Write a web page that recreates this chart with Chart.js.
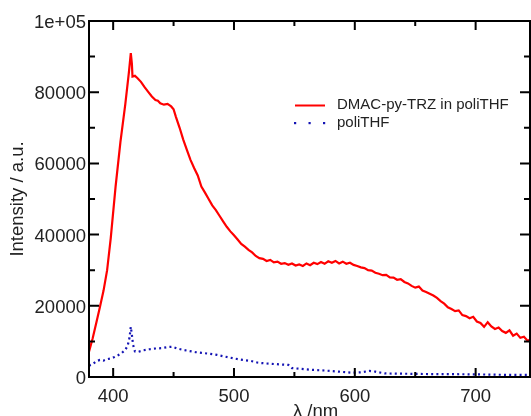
<!DOCTYPE html>
<html>
<head>
<meta charset="utf-8">
<script src="https://cdn.jsdelivr.net/npm/chart.js@4/dist/chart.umd.min.js"></script>
<style>
  html, body { margin: 0; padding: 0; background: #fff; }
  #wrap { width: 531px; height: 416px; }
</style>
</head>
<body>
<div id="wrap"><canvas id="c" width="531" height="416"></canvas></div>
<script>
// ---- data ----
const redLabel = "DMAC-py-TRZ in poliTHF";
const blueLabel = "poliTHF";

const redWavelength = [380,383,386,389,392,395,398,402,406,410,413,414.6,415.5,416,418,420,423,426,429,432,435,437,439,442,445,448,450,452,455,458,461,464,467,470,473,476,479,482,485,488,491,494,497,500,503,506,509,512,515,518,521,524,527,530,533,536,539,542,545,548,551,554,557,560,563,566,569,572,575,578,581,584,587,590,593,596,599,602,605,608,611,614,617,620,623,626,629,632,635,638,641,644,647,650,653,656,659,662,665,668,671,674,677,680,683,686,689,692,695,698,701,704,707,710,713,716,719,722,725,728,731,734,737,740,743,746];
const redIntensity = [7100,10800,15200,19600,24200,30000,39000,53500,66000,76500,85500,91000,88000,84400,84600,84000,82900,81400,80100,78800,77800,77600,76900,76500,76700,76000,75200,73000,70000,66700,63800,61000,58700,56600,53500,51800,50000,48200,46900,45300,43700,42200,40900,39800,38600,37400,36600,35700,35000,34000,33400,33200,32600,32900,32200,32400,31800,32000,31500,31900,31300,31600,31200,31900,31400,32100,31700,32300,31800,32500,32100,32600,31900,32400,31800,32100,31500,31200,30800,30600,30000,29900,29300,29000,28600,28700,28000,27900,27300,27500,26700,26300,25600,25100,25400,24300,23900,23400,22900,22200,21300,20600,19600,19100,18500,18700,17400,17100,16500,16900,15600,15200,14100,15400,14200,13500,13900,12900,12400,13100,11600,12200,11000,11300,10200,10600];

const blueWavelength = [380,383,386,389,392,395,398,401,404,407,410,412,413.5,414.6,415.5,416.5,418,420,425,430,435,440,445,449,453,458,463,468,473,480,486,493,500,507,514,520,527,535,545,548,555,565,576,587,598,605,612,617,625,635,645,658,670,685,700,715,730,746];
const blueIntensity = [3200,3600,4400,4800,4600,5000,5200,5600,6100,6700,7600,8800,11000,14100,11800,9000,7200,7000,7500,7800,8000,8100,8400,8500,8000,7600,7300,7000,6800,6500,6200,5700,5200,4800,4500,4000,3800,3600,3400,2500,2300,2000,1800,1500,1200,1300,1700,1500,1000,950,900,840,800,780,750,650,600,560];

const xTickValues = [400, 500, 600, 700];
const xMinorValues = [450, 550, 650];
const yTickValues = [0, 20000, 40000, 60000, 80000, 100000];
const yMinorValues = [10000, 30000, 50000, 70000, 90000];
const xTitle = "λ /nm";
const yTitle = "Intensity / a.u.";

// ---- chart ----
const FONT = '"Liberation Sans", Arial, Helvetica, sans-serif';
const TEXT = '#222';

const toPoints = (xs, ys) => xs.map((x, i) => ({ x: x, y: ys[i] }));

const framePlugin = {
  id: 'frame',
  afterDatasetsDraw(chart) {
    const { ctx, chartArea: a, scales } = chart;
    const xs = scales.x, ys = scales.y;
    ctx.save();
    ctx.strokeStyle = '#000';
    ctx.lineWidth = 2;
    ctx.strokeRect(a.left, a.top, a.right - a.left, a.bottom - a.top);
    ctx.beginPath();
    const xt = (v, len) => {
      const p = xs.getPixelForValue(v);
      ctx.moveTo(p, a.bottom); ctx.lineTo(p, a.bottom - len);
      ctx.moveTo(p, a.top); ctx.lineTo(p, a.top + len);
    };
    const yt = (v, len) => {
      const p = ys.getPixelForValue(v);
      ctx.moveTo(a.left, p); ctx.lineTo(a.left + len, p);
      ctx.moveTo(a.right, p); ctx.lineTo(a.right - len, p);
    };
    xTickValues.forEach(v => xt(v, 9));
    xMinorValues.forEach(v => xt(v, 5));
    yTickValues.forEach(v => yt(v, 10));
    yMinorValues.forEach(v => yt(v, 6));
    ctx.stroke();

    // axis titles
    ctx.fillStyle = TEXT;
    ctx.font = '18.5px ' + FONT;
    ctx.textAlign = 'center';
    ctx.textBaseline = 'top';
    ctx.fillText(xTitle, (a.left + a.right) / 2 + 6, 403);
    ctx.save();
    ctx.translate(18, (a.top + a.bottom) / 2);
    ctx.rotate(-Math.PI / 2);
    ctx.textBaseline = 'middle';
    ctx.fillText(yTitle, 0, 0);
    ctx.restore();

    // legend
    const ds = chart.data.datasets;
    ctx.font = '15px ' + FONT;
    ctx.textAlign = 'left';
    ctx.textBaseline = 'middle';
    ctx.strokeStyle = ds[0].borderColor;
    ctx.lineWidth = 2;
    ctx.beginPath(); ctx.moveTo(295, 105.5); ctx.lineTo(325, 105.5); ctx.stroke();
    ctx.fillText(ds[0].label, 337, 105);
    ctx.fillStyle = ds[1].borderColor;
    [295, 309.5, 324].forEach(x => ctx.fillRect(x - 1, 122, 2.2, 2.2));
    ctx.fillStyle = TEXT;
    ctx.fillText(ds[1].label, 337, 123);
    ctx.restore();
  }
};

new Chart(document.getElementById('c'), {
  type: 'line',
  data: {
    datasets: [
      {
        label: redLabel,
        data: toPoints(redWavelength, redIntensity),
        borderColor: '#ff0000',
        borderWidth: 2.2,
        pointRadius: 0,
        tension: 0
      },
      {
        label: blueLabel,
        data: toPoints(blueWavelength, blueIntensity),
        borderColor: '#1414b4',
        borderWidth: 2.2,
        borderDash: [2, 3.2],
        pointRadius: 0,
        tension: 0
      }
    ]
  },
  options: {
    responsive: false,
    animation: false,
    layout: { padding: { top: 21, right: 1, left: 0, bottom: 0 } },
    plugins: { legend: { display: false }, tooltip: { enabled: false } },
    scales: {
      x: {
        type: 'linear',
        min: 380,
        max: 745,
        afterBuildTicks: s => { s.ticks = xTickValues.map(v => ({ value: v })); },
        afterFit: s => { s.height = 39; },
        grid: { display: false, drawTicks: false },
        border: { display: false },
        ticks: { padding: 9, color: TEXT, font: { size: 18.5, family: FONT }, maxRotation: 0 }
      },
      y: {
        type: 'linear',
        min: 0,
        max: 100000,
        afterBuildTicks: s => { s.ticks = yTickValues.map(v => ({ value: v })); },
        afterFit: s => { s.width = 89; },
        grid: { display: false, drawTicks: false },
        border: { display: false },
        ticks: {
          padding: 3, labelOffset: 2, color: TEXT, font: { size: 18.5, family: FONT },
          callback: v => (v === 100000 ? '1e+05' : String(v))
        }
      }
    }
  },
  plugins: [framePlugin]
});
</script>
</body>
</html>
